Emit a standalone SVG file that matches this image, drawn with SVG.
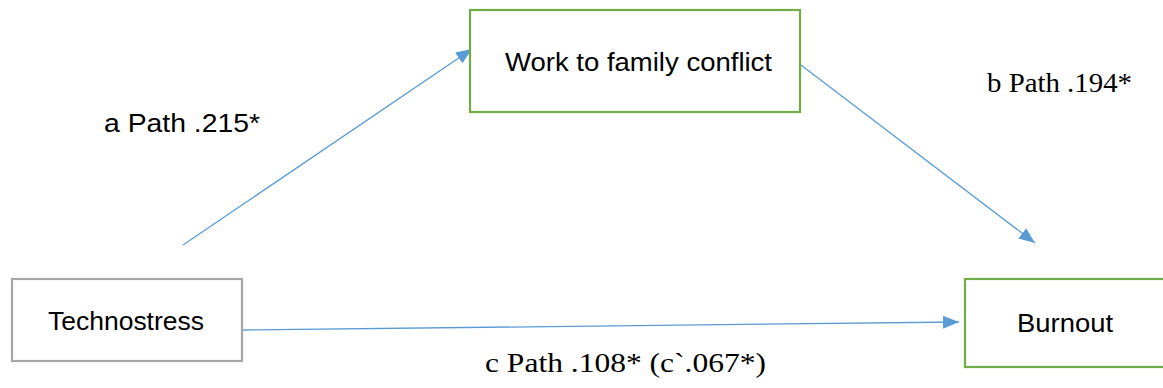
<svg xmlns="http://www.w3.org/2000/svg" width="1163" height="388" viewBox="0 0 1163 388">
<style>
.box{fill:#fff;stroke-width:2.2}
.green{stroke:#70AD47}
.gray{stroke:#A5A5A5}
.sans{font-family:"Liberation Sans",Arial,sans-serif;font-size:25px;fill:#000}
.serif{font-family:"Liberation Serif","Times New Roman",serif;font-size:28px;fill:#000}
.conn{stroke:#5B9BD5;stroke-width:1.3;fill:none;marker-end:url(#arr)}
</style>
<defs>
<marker id="arr" markerUnits="userSpaceOnUse" markerWidth="17" markerHeight="13" refX="16" refY="6.5" orient="auto">
<path d="M0,0 L16,6.5 L0,13 z" fill="#5B9BD5"/>
</marker>
</defs>
<rect width="1163" height="388" fill="#fff"/>
<g id="connectors">
<line class="conn" x1="183" y1="245" x2="472" y2="49"/>
<line class="conn" x1="797" y1="62" x2="1035" y2="243"/>
<line class="conn" x1="243" y1="330" x2="959" y2="322"/>
</g>
<g id="node-wfc">
<rect class="box green" x="470" y="10" width="330" height="102"/>
<text class="sans" x="505" y="71" textLength="267" lengthAdjust="spacingAndGlyphs">Work to family conflict</text>
</g>
<g id="node-technostress">
<rect class="box gray" x="12" y="279" width="230" height="82"/>
<text class="sans" x="48" y="330" textLength="156" lengthAdjust="spacingAndGlyphs">Technostress</text>
</g>
<g id="node-burnout">
<rect class="box green" x="965" y="279" width="210" height="88"/>
<text class="sans" x="1017" y="332" textLength="96" lengthAdjust="spacingAndGlyphs">Burnout</text>
</g>
<g id="labels">
<text class="sans" x="104" y="132" textLength="156" lengthAdjust="spacingAndGlyphs">a Path .215*</text>
<text class="serif" x="987" y="92" textLength="145" lengthAdjust="spacingAndGlyphs">b Path .194*</text>
<text class="serif" x="485" y="372" textLength="281" lengthAdjust="spacingAndGlyphs">c Path .108* (c`.067*)</text>
</g>
</svg>
